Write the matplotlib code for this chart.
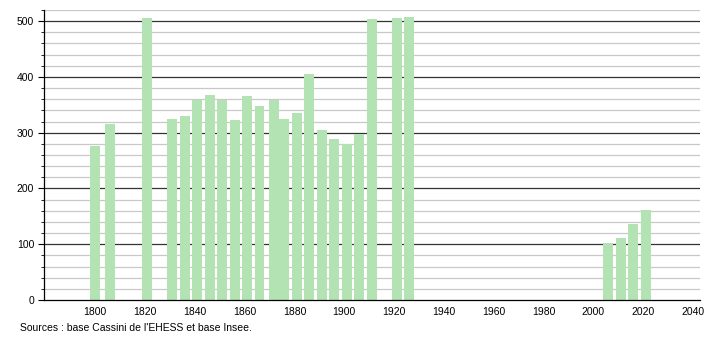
import matplotlib
matplotlib.use("Agg")
import matplotlib.pyplot as plt

# population counts, Cassini / Insee
years = [1800, 1806, 1821, 1831, 1836, 1841, 1846, 1851, 1856, 1861, 1866,
         1872, 1876, 1881, 1886, 1891, 1896, 1901, 1906, 1911, 1921, 1926,
         2006, 2011, 2016, 2021]
population = [277, 316, 505, 325, 330, 359, 367, 359, 323, 366, 347,
              359, 325, 336, 406, 305, 289, 280, 297, 503, 505, 507,
              103, 111, 137, 162]

x_ticks = list(range(1800, 2041, 20))
y_ticks = [0, 100, 200, 300, 400, 500]

plt.rcParams['font.family'] = ['Liberation Sans', 'DejaVu Sans']

fig = plt.figure(figsize=(7.1, 3.4), dpi=100)
ax = fig.add_axes([44 / 710, 1 - 300 / 340, 656 / 710, 290 / 340])

# grid lines: light every 20, dark every 100
for v in range(20, 521, 20):
    if v % 100 == 0:
        ax.axhline(v, color="#333333", lw=0.9, zorder=1)
    else:
        ax.axhline(v, color="#c8c8c8", lw=0.9, zorder=1)

ax.bar(years, population, width=4, color="#b3e3b3", zorder=2)

ax.set_xlim(1779.5, 2042.8)
ax.set_ylim(0, 520)
ax.set_xticks(x_ticks)
ax.set_yticks(y_ticks)
ax.set_yticks(range(0, 521, 20), minor=True)
ax.tick_params(axis="x", length=0, labelsize=7.5, pad=5)
ax.tick_params(axis="y", which="major", length=4, labelsize=7.5, pad=3)
ax.tick_params(axis="y", which="minor", length=2)

for s in ["top", "right"]:
    ax.spines[s].set_visible(False)
ax.spines["left"].set_linewidth(0.9)
ax.spines["bottom"].set_linewidth(0.9)

fig.text(20 / 710, 1 - 328 / 340, "Sources : base Cassini de l'EHESS et base Insee.",
         fontsize=7.5, va="center", ha="left")

fig.savefig("out.png", dpi=100)
